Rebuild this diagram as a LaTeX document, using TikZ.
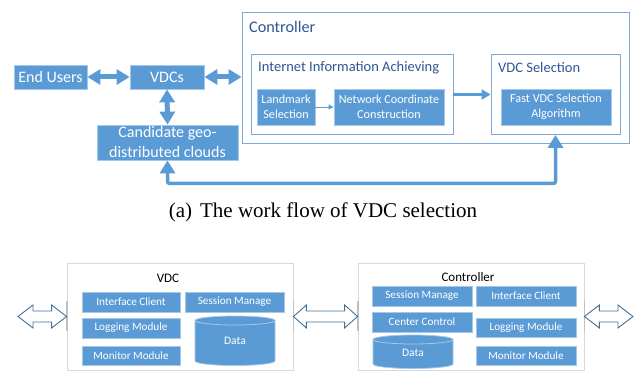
\documentclass[tikz,border=0pt]{standalone}
\usepackage{fontspec}
\setmainfont{Liberation Serif}
\newfontfamily\calfont{Carlito}
\usetikzlibrary{arrows.meta,calc}
\definecolor{bfill}{HTML}{5B9BD5}
\definecolor{bedge}{HTML}{A7C7E7}
\definecolor{oedge}{HTML}{7EA9D9}
\definecolor{ttl}{HTML}{2F5597}
\definecolor{gline}{HTML}{D9D9D9}
\definecolor{gbar}{HTML}{BFBFBF}
\definecolor{harrowc}{HTML}{41719C}
\newcommand\hollowdbl[3]{%
  \path[harrow] let \p1=(#1), \p2=(#2) in
  (\x1,\y1) -- ({\x1+#3},{\y1+11.5pt}) -- ({\x1+#3},{\y1+5.5pt}) -- ({\x2-#3},{\y1+5.5pt})
  -- ({\x2-#3},{\y1+11.5pt}) -- (\x2,\y1) -- ({\x2-#3},{\y1-11.5pt}) -- ({\x2-#3},{\y1-5.5pt})
  -- ({\x1+#3},{\y1-5.5pt}) -- ({\x1+#3},{\y1-11.5pt}) -- cycle;}
\newcommand\cylshape[5]{%
  \pgfmathsetmacro\crx{(#2-#1)/2}%
  \filldraw[cylst] (#1,#3) -- (#1,#4) arc[start angle=180,end angle=0,x radius=\crx,y radius=#5]
    -- (#2,#3) arc[start angle=0,end angle=-180,x radius=\crx,y radius=#5] -- cycle;
  \draw[cylst] (#1,#3) arc[start angle=180,end angle=0,x radius=\crx,y radius=#5];}
\tikzset{
  fbox/.style={draw=bedge, fill=bfill, line width=0.8pt, text=white, align=center, inner sep=0pt},
  bigtxt/.style={font=\calfont\fontsize{16}{20}\selectfont},
  midtxt/.style={font=\calfont\fontsize{12.2}{15}\selectfont},
  smalltxt/.style={font=\calfont\fontsize{11.2}{13}\selectfont},
  obox/.style={draw=oedge, line width=0.9pt, fill=white, inner sep=0pt},
  ttltxt/.style={text=ttl, inner sep=0pt, anchor=west},
  gbox/.style={draw=gline, line width=0.8pt, fill=white, inner sep=0pt},
  gbarst/.style={draw=gbar, line width=1.8pt},
  tarrow/.style={draw=bfill, line width=5pt, {Triangle[length=13pt,width=15pt]}-{Triangle[length=13pt,width=15pt]}},
  marrow/.style={draw=bfill, line width=3pt, -{Triangle[length=9pt,width=10pt]}},
  sarrow/.style={draw=bfill, line width=0.8pt, -{Triangle[length=5pt,width=5pt]}},
  fbarrow/.style={draw=bfill, line width=3.5pt, rounded corners=2pt, {Triangle[length=13pt,width=15pt]}-{Triangle[length=13pt,width=15pt]}},
  harrow/.style={draw=harrowc, fill=white, line width=0.9pt, line join=miter},
  cylst/.style={draw=bedge, fill=bfill, line width=0.8pt},
}
\begin{document}
\begin{tikzpicture}[x=1pt,y=-1pt]
\useasboundingbox (0,0) rectangle (638,371);
% ---------- (a) work flow ----------
\node[obox, minimum width=387, minimum height=131] (ctrl) at (435.5,77.5) {};
\node[ttltxt, font=\calfont\fontsize{16.2}{20}\selectfont] (ctrlt) at (249,27) {Controller};
\node[obox, minimum width=202, minimum height=80] (iia) at (352,94.5) {};
\node[ttltxt, font=\calfont\fontsize{14.5}{18}\selectfont] (iiat) at (258,68) {Internet Information Achieving};
\node[obox, minimum width=129, minimum height=80] (vsel) at (555.5,94.5) {};
\node[ttltxt, font=\calfont\fontsize{14.5}{18}\selectfont] (vselt) at (498,68) {VDC Selection};
\node[fbox, midtxt, minimum width=58, minimum height=36] (lm) at (286,107) {Landmark\\Selection};
\node[fbox, midtxt, minimum width=110, minimum height=36] (ncc) at (389,107) {Network Coordinate\\Construction};
\node[fbox, midtxt, minimum width=110, minimum height=36] (fast) at (556,107) {Fast VDC Selection\\Algorithm};
\node[fbox, bigtxt, minimum width=73, minimum height=24] (eu) at (50.5,77) {End Users};
\node[fbox, bigtxt, minimum width=74, minimum height=24] (vdcs) at (167,77) {VDCs};
\node[fbox, bigtxt, minimum width=141, minimum height=35] (cand) at (167.5,142.5) {Candidate geo-\\distributed clouds};
\draw[tarrow] (eu.east) -- (vdcs.west);
\draw[tarrow] (vdcs.east) -- (vdcs.east -| ctrl.west);
\draw[tarrow] (vdcs.south) -- (cand.north);
\draw[sarrow] (lm.east) -- (ncc.west);
\draw[marrow] (iia.east) -- (vsel.west);
\draw[fbarrow] (cand.south) -- ++(0,23) -| (vsel.south);
\node[font=\fontsize{21}{25}\selectfont, inner sep=0pt] (cap) at (323,212) {(a)\hspace{8pt}The work flow of VDC selection};
% ---------- (b) modules ----------
\node[gbox, minimum width=226, minimum height=107] (vb) at (180,316.5) {};
\node[gbox, minimum width=226, minimum height=107] (cb) at (471,316.5) {};
\draw[gbarst] ($(vb.west)+(0,-15)$) -- ($(vb.west)+(0,15)$);
\draw[gbarst] ($(vb.east)+(0,-15)$) -- ($(vb.east)+(0,15)$);
\draw[gbarst] ($(cb.west)+(0,-15)$) -- ($(cb.west)+(0,15)$);
\draw[gbarst] ($(cb.east)+(0,-15)$) -- ($(cb.east)+(0,15)$);
\node[font=\calfont\fontsize{13}{16}\selectfont, inner sep=0pt] (vbt) at (168,278) {VDC};
\node[font=\calfont\fontsize{13}{16}\selectfont, inner sep=0pt] (cbt) at (468,277) {Controller};
\node[fbox, smalltxt, minimum width=98, minimum height=20] (ic1) at (131,302) {Interface Client};
\node[fbox, smalltxt, minimum width=99, minimum height=20] (sm1) at (234.5,302) {Session Manage};
\node[fbox, smalltxt, minimum width=98, minimum height=20] (lg1) at (131,328) {Logging Module};
\node[fbox, smalltxt, minimum width=98, minimum height=19] (mm1) at (131,355.5) {Monitor Module};
\cylshape{195}{275}{320.5}{361}{4.5}
\node[text=white, font=\calfont\fontsize{11.5}{14}\selectfont, inner sep=0pt] (d1) at (235,341) {Data};
\node[fbox, smalltxt, minimum width=100, minimum height=20] (sm2) at (422,296) {Session Manage};
\node[fbox, smalltxt, minimum width=100, minimum height=20] (ic2) at (526,296) {Interface Client};
\node[fbox, smalltxt, minimum width=100, minimum height=20] (cc2) at (422,322) {Center Control};
\node[fbox, smalltxt, minimum width=100, minimum height=19] (lg2) at (526,327.5) {Logging Module};
\node[fbox, smalltxt, minimum width=100, minimum height=19] (mm2) at (526,355.5) {Monitor Module};
\cylshape{373}{453}{339.5}{364}{4.5}
\node[text=white, font=\calfont\fontsize{11.5}{14}\selectfont, inner sep=0pt] (d2) at (413,353) {Data};
\coordinate (lfree) at (18,316.5);
\coordinate (rfree) at (633,316.5);
\hollowdbl{lfree}{vb.west}{15pt}
\hollowdbl{vb.east}{cb.west}{13pt}
\hollowdbl{cb.east}{rfree}{15pt}
\end{tikzpicture}
\end{document}
